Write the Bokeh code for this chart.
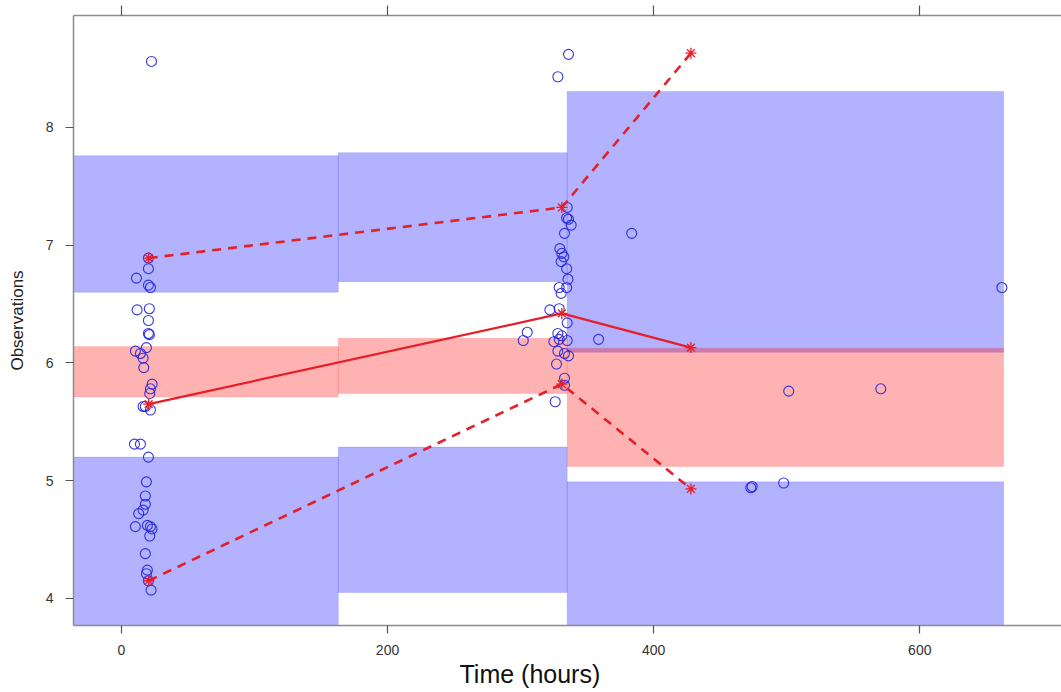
from bokeh.plotting import figure
from bokeh.models import LinearAxis, FixedTicker, Range1d, ColumnDataSource, Title
from bokeh.embed import file_html
from bokeh.resources import INLINE

# ---- data ----
# bins of the VPC
bin_start = [-40, 163, 335]
bin_end = [163, 335, 663]
# simulated prediction intervals (blue = outer percentiles, red = median)
hi_top = [7.76, 7.785, 8.305]
hi_bot = [6.60, 6.69, 6.09]
med_top = [6.14, 6.21, 6.125]
med_bot = [5.71, 5.74, 5.12]
lo_top = [5.20, 5.285, 4.99]
lo_bot = [3.60, 4.05, 3.60]

# observed percentiles
stat_time = [20.5, 331, 428]
obs_median = [5.65, 6.42, 6.13]
obs_upper = [6.89, 7.32, 8.63]
obs_lower = [4.15, 5.82, 4.93]

# observations
obs_time = [22.6, 20.3, 20.3, 11.3, 20.3, 21.8, 11.8, 21.0, 20.3, 20.3,
            21.0, 18.8, 10.5, 14.3, 16.3, 16.8, 23.1, 21.8, 21.3, 16.3,
            18.0, 21.8, 9.8, 14.3, 20.3, 18.8, 18.0, 18.0, 16.3, 13.0,
            10.5, 19.5, 21.8, 23.0, 21.3, 18.0, 19.5, 18.8, 20.3, 22.3,
            336, 328, 335, 334.6, 336, 338, 333, 329.5, 331, 332.5,
            330.5, 334.6, 335.6, 334.6, 329, 330.5, 322, 329, 305, 302,
            335, 328, 331, 329, 325, 335, 328, 333, 336, 327,
            333, 333, 326,
            358.6, 383.5, 501.5, 570.7, 473, 474, 497.7, 661.7]
obs_value = [8.56, 6.89, 6.80, 6.72, 6.66, 6.64, 6.45, 6.46, 6.36, 6.25,
             6.24, 6.13, 6.10, 6.08, 6.04, 5.96, 5.82, 5.78, 5.74, 5.63,
             5.63, 5.60, 5.31, 5.31, 5.20, 4.99, 4.87, 4.80, 4.75, 4.72,
             4.61, 4.62, 4.61, 4.59, 4.53, 4.38, 4.24, 4.21, 4.15, 4.07,
             8.62, 8.43, 7.32, 7.23, 7.22, 7.17, 7.10, 6.97, 6.93, 6.90,
             6.86, 6.80, 6.71, 6.64, 6.64, 6.59, 6.45, 6.46, 6.26, 6.19,
             6.34, 6.25, 6.23, 6.20, 6.18, 6.19, 6.10, 6.08, 6.06, 5.99,
             5.87, 5.81, 5.67,
             6.20, 7.10, 5.76, 5.78, 4.94, 4.95, 4.98, 6.64]

x_ticks = [0, 200, 400, 600]
y_ticks = [4, 5, 6, 7, 8]
x_title = "Time (hours)"
y_title = "Observations"

FONT = "Liberation Sans"

p = figure(width=1061, height=692, output_backend="svg", toolbar_location=None,
           x_range=Range1d(-36, 706.5), y_range=Range1d(3.77, 8.95),
           min_border_left=73, min_border_right=0, min_border_top=15,
           min_border_bottom=67, x_axis_location=None, y_axis_location=None)
p.outline_line_color = None
p.xgrid.visible = False
p.ygrid.visible = False
p.background_fill_color = "white"
p.border_fill_color = "white"

bins = ColumnDataSource(dict(l=bin_start, r=bin_end, ht=hi_top, hb=hi_bot,
                             mt=med_top, mb=med_bot, lt=lo_top, lb=lo_bot))
p.quad(left="l", right="r", top="ht", bottom="hb", source=bins,
       fill_color="blue", fill_alpha=0.3, line_color="blue", line_alpha=0.12)
p.quad(left="l", right="r", top="lt", bottom="lb", source=bins,
       fill_color="blue", fill_alpha=0.3, line_color="blue", line_alpha=0.12)
p.quad(left="l", right="r", top="mt", bottom="mb", source=bins,
       fill_color="red", fill_alpha=0.3, line_color="red", line_alpha=0.1)

p.scatter(obs_time, obs_value, marker="circle", size=10, fill_color=None,
          line_color="#2222dd", line_width=1.1, line_alpha=0.9)

RED = "#e61e28"
p.line(stat_time, obs_median, line_color=RED, line_width=2.2)
p.line(stat_time, obs_upper, line_color=RED, line_width=2.6, line_dash="9 7")
p.line(stat_time, obs_lower, line_color=RED, line_width=2.6, line_dash="9 7")
for ys in (obs_median, obs_upper, obs_lower):
    p.scatter(stat_time, ys, marker="asterisk", size=11, line_color=RED, line_width=1.3)

AX = "#8c8c8c"

xb = LinearAxis(ticker=FixedTicker(ticks=x_ticks))
ya = LinearAxis(ticker=FixedTicker(ticks=y_ticks), axis_label=y_title)
xt = LinearAxis(ticker=FixedTicker(ticks=x_ticks))
for ax in (xb, ya, xt):
    ax.axis_line_color = AX
    ax.axis_line_width = 1.5
    ax.major_tick_line_color = "#555555"
    ax.major_tick_line_width = 1.2
    ax.major_tick_out = 8
    ax.major_tick_in = 0
    ax.minor_tick_line_color = None
    ax.major_label_text_font = FONT
    ax.major_label_text_font_size = "14px"
    ax.major_label_text_color = "#333333"
    ax.axis_label_text_font = FONT
    ax.axis_label_text_font_style = "normal"
    ax.axis_label_text_color = "#222222"

xb.major_label_standoff = 11
ya.major_label_standoff = 12
ya.axis_label_text_font_size = "17px"
ya.axis_label_standoff = 16
# top axis: ticks only, no labels
xt.major_label_text_font_size = "1px"
xt.major_label_text_color = None
xt.major_label_standoff = 0
xt.major_tick_out = 10

p.add_layout(xb, "below")
p.add_layout(ya, "left")
p.add_layout(xt, "above")

t = Title(text=x_title, align="left", offset=386, text_font=FONT,
          text_font_size="25px", text_font_style="normal", text_color="#111111",
          standoff=0)
p.add_layout(t, "below")

open("out.html", "w").write(file_html(p, INLINE))
